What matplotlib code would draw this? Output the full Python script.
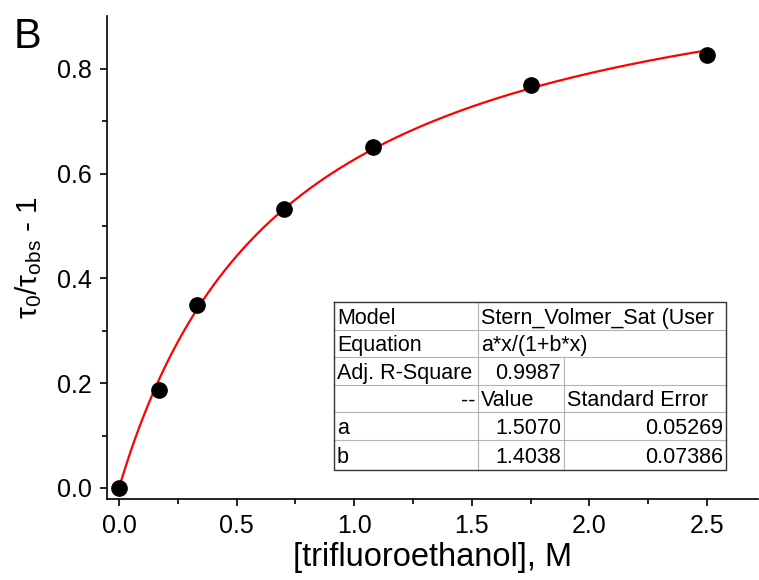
import numpy as np
import matplotlib
matplotlib.use("Agg")
import matplotlib.pyplot as plt
from matplotlib.lines import Line2D

plt.rcParams["font.family"] = ["Liberation Sans", "DejaVu Sans"]
plt.rcParams["mathtext.fontset"] = "custom"
plt.rcParams["mathtext.rm"] = "Liberation Sans"
plt.rcParams["mathtext.it"] = "Liberation Sans"

# ---- data ------------------------------------------------------------
conc = [0.0, 0.17, 0.33, 0.70, 1.08, 1.75, 2.50]          # M
ratio = [0.0, 0.187, 0.349, 0.533, 0.651, 0.769, 0.827]    # tau0/tau_obs - 1

# fit parameters (from the results table)
fit_a = 1.5070
fit_b = 1.4038

table_rows = [
    ["Model", "Stern_Volmer_Sat (User", None],
    ["Equation", "a*x/(1+b*x)", None],
    ["Adj. R-Square", "0.9987", ""],
    ["--", "Value", "Standard Error"],
    ["a", "1.5070", "0.05269"],
    ["b", "1.4038", "0.07386"],
]

xticks = [0.0, 0.5, 1.0, 1.5, 2.0, 2.5]
yticks = [0.0, 0.2, 0.4, 0.6, 0.8]

# ---- figure ----------------------------------------------------------
W, H = 759, 580
fig = plt.figure(figsize=(W / 100, H / 100), dpi=100)
ax = fig.add_axes([107 / W, 1 - 499 / H, (758 - 107) / W, (499 - 16) / H])

xfit = np.linspace(0, conc[-1], 300)
ax.plot(xfit, fit_a * xfit / (1 + fit_b * xfit), color="red", lw=1.6, zorder=2)
ax.plot(conc, ratio, "o", color="black", ms=11, zorder=3)

ax.set_xlim(-0.051, 2.717)
ax.set_ylim(-0.021, 0.901)
ax.set_xticks(xticks)
ax.set_yticks(yticks)
ax.set_xticks(np.arange(0.25, 2.6, 0.5), minor=True)
ax.set_yticks(np.arange(0.1, 0.9, 0.2), minor=True)
ax.xaxis.set_major_formatter(plt.FormatStrFormatter("%.1f"))
ax.yaxis.set_major_formatter(plt.FormatStrFormatter("%.1f"))

for s in ("top", "right"):
    ax.spines[s].set_visible(False)
for s in ("left", "bottom"):
    ax.spines[s].set_linewidth(1.2)
ax.tick_params(which="major", length=5, width=1.2, labelsize=18, pad=6)
ax.tick_params(which="minor", length=3.5, width=1.2)

ax.set_xlabel("[trifluoroethanol], M", fontsize=23.5, labelpad=3)
ax.set_ylabel(r"$\mathregular{\tau_0/\tau_{obs}}$ - 1", fontsize=21.5, labelpad=9)

fig.text(14 / W, 1 - 48 / H, "B", fontsize=30, ha="left", va="baseline")

# ---- results table (pixel layout) ------------------------------------
col_x = [334, 478, 564, 726]
row_y = [302, 330, 357, 385, 412, 440, 470]


def fx(px):
    return px / W


def fy(py):
    return 1 - py / H


grey = "#b4b4b4"
# inner horizontal lines
for y in row_y[1:-1]:
    fig.add_artist(Line2D([fx(col_x[0]), fx(col_x[3])], [fy(y), fy(y)], color=grey, lw=0.8))
# inner vertical lines
fig.add_artist(Line2D([fx(col_x[1])] * 2, [fy(row_y[0]), fy(row_y[-1])], color=grey, lw=0.8))
fig.add_artist(Line2D([fx(col_x[2])] * 2, [fy(row_y[2]), fy(row_y[-1])], color=grey, lw=0.8))
# outer frame
fig.add_artist(Line2D([fx(col_x[0]), fx(col_x[3]), fx(col_x[3]), fx(col_x[0]), fx(col_x[0])],
                      [fy(row_y[0]), fy(row_y[0]), fy(row_y[-1]), fy(row_y[-1]), fy(row_y[0])],
                      color="#333333", lw=1.0))

fs = 15.5
for i, row in enumerate(table_rows):
    yc = fy((row_y[i] + row_y[i + 1]) / 2)
    for j, txt in enumerate(row):
        if not txt:
            continue
        if i == 3 and j == 0:
            x, ha = fx(col_x[1] - 3), "right"
        elif (i >= 2 and j >= 1 and i != 3):
            x, ha = fx(col_x[j + 1] - 3), "right"
        else:
            x, ha = fx(col_x[j] + 3), "left"
        fig.text(x, yc, txt, fontsize=fs, ha=ha, va="center_baseline")

fig.savefig("out.png", dpi=100)
